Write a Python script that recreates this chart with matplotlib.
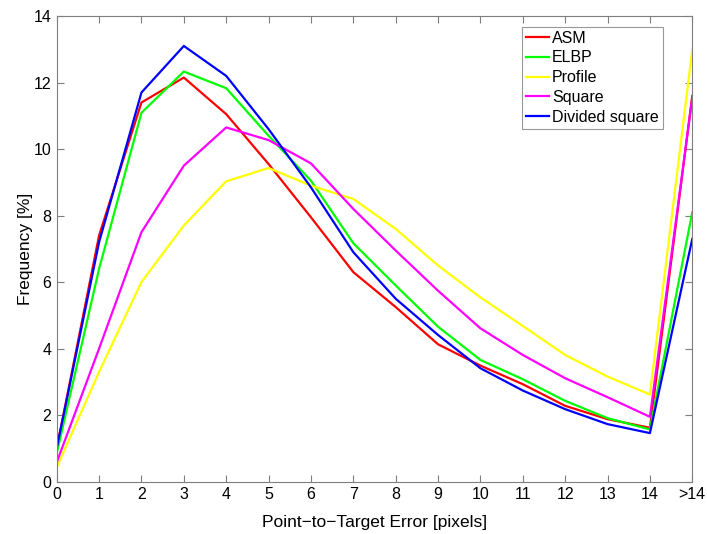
import matplotlib
matplotlib.use("Agg")
import matplotlib.pyplot as plt

plt.rcParams['font.family'] = ['Liberation Sans', 'DejaVu Sans']

# error bins: 0..14 and the overflow bin ">14"
bins = list(range(16))
bin_labels = [str(i) for i in range(15)] + ['>14']

asm = [1.0, 7.4, 11.4, 12.15, 11.05, 9.55, 7.95, 6.3, 5.25, 4.13, 3.49, 2.93, 2.28, 1.88, 1.62, 11.6]
elbp = [0.85, 6.4, 11.09, 12.33, 11.83, 10.4, 9.05, 7.17, 5.9, 4.66, 3.66, 3.08, 2.43, 1.91, 1.57, 8.1]
profile = [0.43, 3.3, 6.0, 7.7, 9.03, 9.43, 8.9, 8.5, 7.6, 6.5, 5.54, 4.68, 3.81, 3.16, 2.62, 13.0]
square = [0.58, 4.0, 7.5, 9.5, 10.65, 10.27, 9.57, 8.2, 6.95, 5.74, 4.61, 3.81, 3.11, 2.54, 1.95, 11.55]
div_square = [1.0, 7.2, 11.7, 13.1, 12.2, 10.6, 8.85, 6.9, 5.5, 4.41, 3.41, 2.74, 2.18, 1.73, 1.46, 7.3]

series = [
    ('ASM', asm, '#ff0000'),
    ('ELBP', elbp, '#00ff00'),
    ('Profile', profile, '#ffff00'),
    ('Square', square, '#ff00ff'),
    ('Divided square', div_square, '#0000ff'),
]

fig = plt.figure(figsize=(7.07, 5.34), dpi=100)
ax = fig.add_axes([0.0802, 0.098, 0.899, 0.872])

for name, vals, col in series:
    ax.plot(bins, vals, color=col, lw=1.6, label=name)

ax.set_xlim(0, 15)
ax.set_ylim(0, 14)
ax.set_xticks(bins)
ax.set_xticklabels(bin_labels)
ax.set_yticks(range(0, 15, 2))
ax.tick_params(direction='in', top=True, right=True, length=5, width=0.8,
               color='#7f7f7f', labelsize=11.5, pad=4)
for sp in ax.spines.values():
    sp.set_color('#7f7f7f')
    sp.set_linewidth(0.8)

ax.set_xlabel('Point\u2212to\u2212Target Error [pixels]', fontsize=12.5, labelpad=9)
ax.set_ylabel('Frequency [%]', fontsize=12.5, labelpad=0)

leg = ax.legend(loc='upper left', bbox_to_anchor=(521.7 / 707, 1 - 26.7 / 534),
                bbox_transform=fig.transFigure, frameon=True, fancybox=False,
                fontsize=11.5, handlelength=1.45, handletextpad=0.2,
                labelspacing=0.3, borderpad=0.25, borderaxespad=0)
leg.get_frame().set_edgecolor('#7f7f7f')
leg.get_frame().set_linewidth(0.8)

fig.savefig('out.png', dpi=100)
